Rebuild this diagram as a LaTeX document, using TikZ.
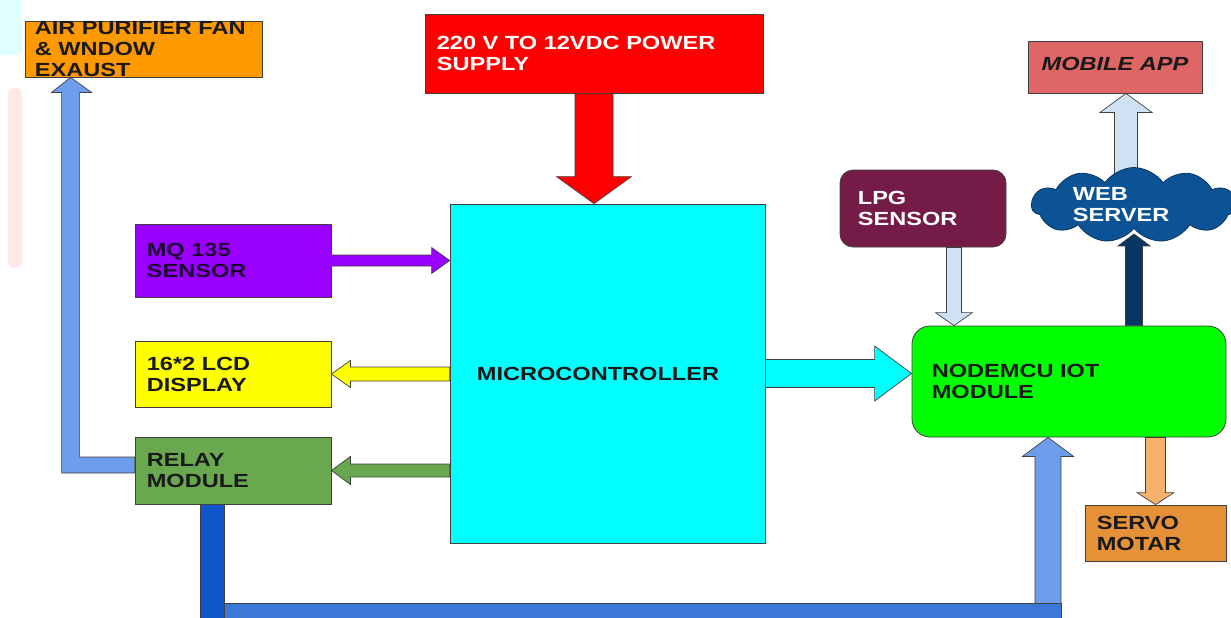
\documentclass[tikz,border=0pt]{standalone}
\usepackage{fontspec}
\setmainfont{Liberation Sans}
\usetikzlibrary{calc,shapes.symbols,backgrounds}

\definecolor{naranja}{HTML}{FF9900}
\definecolor{rojo}{HTML}{FF0000}
\definecolor{cian}{HTML}{00FFFF}
\definecolor{morado}{HTML}{9900FF}
\definecolor{amarillo}{HTML}{FFFF00}
\definecolor{verdeosc}{HTML}{6AA84F}
\definecolor{verde}{HTML}{00FF00}
\definecolor{vino}{HTML}{741B47}
\definecolor{celeste}{HTML}{CFE2F3}
\definecolor{nube}{HTML}{0B5394}
\definecolor{marino}{HTML}{073763}
\definecolor{salmon}{HTML}{E06666}
\definecolor{naranjaosc}{HTML}{E69138}
\definecolor{naranjaclaro}{HTML}{F6B26B}
\definecolor{azulclaro}{HTML}{6D9EEB}
\definecolor{azulmed}{HTML}{3C78D8}
\definecolor{azulosc}{HTML}{1155CC}

% flecha gorda: estilo, origen, punta, semiancho, semiancho punta, largo punta
\newcommand{\flecha}[6]{%
  \coordinate (fb) at ($(#3)!#6!(#2)$);
  \filldraw[#1] ($(#2)!#4!90:(#3)$) -- ($(fb)!#4!90:(#3)$) -- ($(fb)!#5!90:(#3)$) -- (#3)
    -- ($(fb)!#5!-90:(#3)$) -- ($(fb)!#4!-90:(#3)$) -- ($(#2)!#4!-90:(#3)$) -- cycle;}

\begin{document}
\begin{tikzpicture}[x=1pt,y=-1pt,
  caja/.style={draw=black!75,line width=0.8pt,inner sep=0},
  txt/.style={anchor=west,align=left,inner sep=0,font=\fontsize{19}{21}\selectfont\bfseries,xscale=1.24,transform shape},
  fl/.style={draw=black!75,line width=0.7pt}]
  \clip (0,0) rectangle (1231,618);
  % restos claros del borde izquierdo
  \fill[cian!12,rounded corners=6pt] (-10,-10) rectangle (22,55);
  \fill[red!9,rounded corners=6pt] (8,88) rectangle (22,268);

  % bloques
  \node[caja,fill=naranja,minimum width=237pt,minimum height=56pt] (air) at (143.5,49) {};
  \node[caja,fill=rojo,minimum width=338pt,minimum height=79pt] (pw) at (594,53.5) {};
  \node[caja,fill=cian,minimum width=315pt,minimum height=339pt] (mcu) at (607.5,373.5) {};
  \node[caja,fill=morado,minimum width=196pt,minimum height=73pt] (mq) at (233,260.5) {};
  \node[caja,fill=amarillo,minimum width=196pt,minimum height=66pt] (lcd) at (233,374) {};
  \node[caja,fill=verdeosc,minimum width=196pt,minimum height=67pt] (relay) at (233,470.5) {};
  \node[caja,fill=vino,rounded corners=13pt,minimum width=166pt,minimum height=77pt] (lpg) at (923,208.5) {};
  \node[caja,fill=verde,rounded corners=18pt,minimum width=314pt,minimum height=111pt] (iot) at (1069,381.5) {};
  \node[caja,fill=salmon,minimum width=174pt,minimum height=52pt] (app) at (1115,67) {};
  \node[caja,fill=naranjaosc,minimum width=141pt,minimum height=56pt] (servo) at (1155.5,533) {};
  \node[cloud,cloud puffs=11,cloud puff arc=110,aspect=2.7,fill=nube,draw=marino,line width=0.8pt,
        minimum width=205pt,minimum height=75pt,inner sep=0] (web) at (1134,205) {};

  % textos
  \node[txt,text=black!90] (airt) at ([xshift=10pt]air.west) {AIR PURIFIER FAN\\\& WNDOW\\EXAUST};
  \node[txt,text=white] (pwt) at ([xshift=12pt]pw.west) {220 V TO 12VDC POWER\\SUPPLY};
  \node[txt,anchor=center,text=black!90] (mcut) at ([xshift=-9.5pt]mcu.center) {MICROCONTROLLER};
  \node[txt,text=black!80!morado] (mqt) at ([xshift=12pt]mq.west) {MQ 135\\SENSOR};
  \node[txt,text=black!90] (lcdt) at ([xshift=12pt]lcd.west) {16*2 LCD\\DISPLAY};
  \node[txt,text=black!90] (relayt) at ([xshift=12pt]relay.west) {RELAY\\MODULE};
  \node[txt,text=white] (lpgt) at ([xshift=18pt]lpg.west) {LPG\\SENSOR};
  \node[txt,text=black!90] (iott) at ([xshift=20pt]iot.west) {NODEMCU IOT\\MODULE};
  \node[txt,anchor=center,text=black!90,font=\fontsize{19}{21}\selectfont\bfseries\itshape] (appt) at ([yshift=3pt]app.center) {MOBILE APP};
  \node[txt,text=black!90] (servot) at ([xshift=12pt]servo.west) {SERVO\\MOTAR};
  \node[txt,text=white] (webt) at ([xshift=42pt]web.west) {WEB\\SERVER};

  % flechas al microcontrolador
  \coordinate (c0) at (mq.east -| mcu.west);
  \coordinate (c1) at (lcd.east -| mcu.west);
  \coordinate (c2) at (relay.east -| mcu.west);
  \coordinate (c3) at (pw.south |- mcu.north);
  \coordinate (c4) at (mcu.east -| iot.west);
  \flecha{fl,fill=rojo}{pw.south}{c3}{19pt}{37.5pt}{27pt}
  \flecha{fl,fill=morado}{mq.east}{c0}{5.5pt}{13pt}{18pt}
  \flecha{fl,fill=amarillo}{c1}{lcd.east}{7pt}{13.5pt}{19pt}
  \flecha{fl,fill=verdeosc}{c2}{relay.east}{6.5pt}{14pt}{19pt}
  \flecha{fl,fill=cian}{mcu.east}{c4}{14pt}{27.5pt}{37pt}

  % lado del nodemcu
  \coordinate (l0) at ([xshift=31pt]lpg.south); \coordinate (l1) at (l0 |- iot.north);
  \flecha{fl,fill=celeste}{l0}{l1}{7.5pt}{18.5pt}{13pt}
  \coordinate (w1) at ([yshift=-5pt]web.south); \coordinate (w0) at (w1 |- iot.north);
  \flecha{fl,fill=marino}{w0}{w1}{8.5pt}{16pt}{12pt}
  \coordinate (m1) at ([xshift=11pt]app.south); \coordinate (m0) at (m1 |- web.center);
  \begin{scope}[on background layer]
    \flecha{fl,fill=celeste}{m0}{m1}{11.5pt}{26pt}{19pt}
  \end{scope}
  \coordinate (s0) at (servo.north |- iot.south);
  \flecha{fl,fill=naranjaclaro}{s0}{servo.north}{10pt}{18.5pt}{12pt}

  % rele -> ventilador
  \coordinate (ap) at ([xshift=46pt]air.south west);
  \filldraw[fl,fill=azulclaro] ($(relay.west)+(0,-13.5)$) -- ($(ap |- relay.west)+(9,-13.5)$) -- ($(ap)+(9,15)$)
    -- ($(ap)+(21,15)$) -- (ap) -- ($(ap)+(-19,15)$) -- ($(ap)+(-9,15)$)
    -- ($(ap |- relay.west)+(-9,2.5)$) -- ($(relay.west)+(0,2.5)$) -- cycle;

  % rele -> nodemcu por abajo
  \coordinate (b1) at ([xshift=-21pt]relay.south);
  \coordinate (b2) at ([xshift=-21pt]iot.south);
  \coordinate (b3) at ($(b2)+(0,166)$);
  \filldraw[fl,fill=azulosc] ($(b1)+(-12,0)$) rectangle ($(b1)+(12,125)$);
  \filldraw[fl,fill=azulmed] ($(b1)+(12,99)$) rectangle ($(b2 |- b1)+(13,125)$);
  \flecha{fl,fill=azulclaro}{b3}{b2}{13pt}{25.5pt}{19pt}
\end{tikzpicture}
\end{document}
